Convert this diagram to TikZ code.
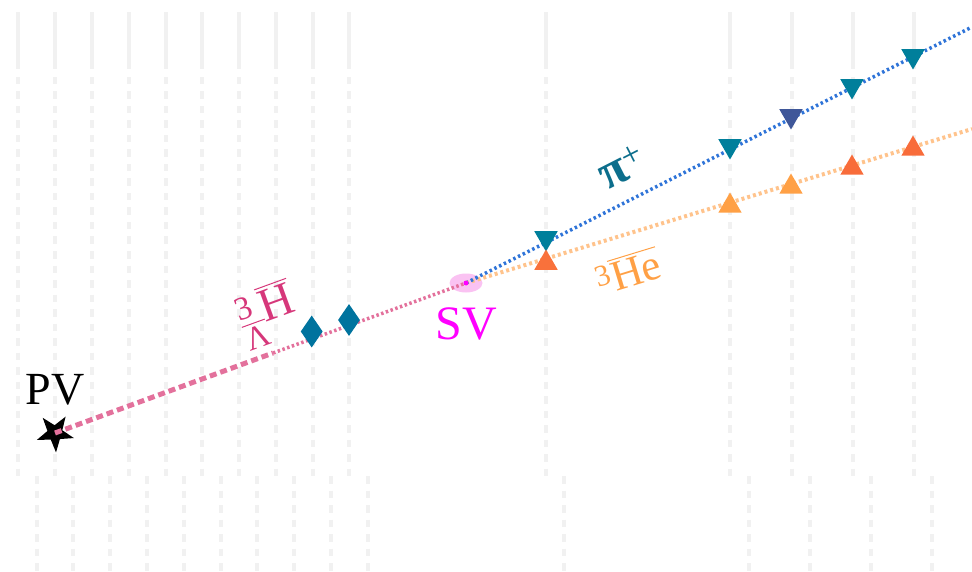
\documentclass[tikz,border=0pt]{standalone}
\usepackage{amsmath}
\usepackage{fontspec}
\setmainfont{Liberation Serif}
\usetikzlibrary{shapes.geometric}

\definecolor{layergray}{HTML}{F1F1F1}
\definecolor{htpink}{HTML}{E3719C}
\definecolor{htlabel}{HTML}{D6377A}
\definecolor{pitrack}{HTML}{2F74D8}
\definecolor{pilabel}{HTML}{0C6E8C}
\definecolor{piteal}{HTML}{007F9B}
\definecolor{pinavy}{HTML}{3F5799}
\definecolor{hetrack}{HTML}{FFC38C}
\definecolor{helabel}{HTML}{FFA045}
\definecolor{helight}{HTML}{FFA045}
\definecolor{hered}{HTML}{F86C3A}
\definecolor{htdiam}{HTML}{00739E}
\definecolor{svmag}{HTML}{FF00FF}
\definecolor{svglow}{HTML}{FAC2F2}

\begin{document}
\begin{tikzpicture}[x=1pt,y=-1pt,
  layer/.style={line width=4pt,color=layergray},
  layerdash/.style={layer,dash pattern=on 7.5pt off 7pt},
  pidown/.style={regular polygon,regular polygon sides=3,rotate=180,minimum size=27pt,inner sep=0pt},
  heup/.style={regular polygon,regular polygon sides=3,minimum size=27pt,inner sep=0pt},
  hitdiam/.style={diamond,fill=htdiam,minimum width=22pt,minimum height=32pt,inner sep=0pt},
  biglabel/.style={inner sep=0pt,font=\fontsize{46}{50}\selectfont}]
\useasboundingbox (0,0) rectangle (972,572);

% detector layers
\foreach \lx in {18.3,55,91.7,128.8,165.7,202.3,239,275.8,312.6,349.3,545.7,730,791.5,852.7,914}{
  \draw[layer] (\lx,12) -- (\lx,69);
  \draw[layerdash] (\lx,77) -- (\lx,476);
}
\foreach \lx in {36.7,73.4,110.2,147,183.7,220.5,257.3,294,331,367.7,564,748.7,810,871,932}
  \draw[layerdash] (\lx,476) -- (\lx,572);

% vertices
\node[star,star points=5,star point ratio=2.5,fill=black,minimum size=39pt,inner sep=0pt,rotate=183] (pv) at (55,433) {};
\node[biglabel] (pvlabel) at (55,390) {PV};
\node[ellipse,fill=svglow,minimum width=33pt,minimum height=19pt,inner sep=0pt] (sv) at (466,283) {};
\node[biglabel,text=svmag,font=\fontsize{48}{50}\selectfont] (svlabel) at (466,324) {SV};

\coordinate (kink) at (273,353);
\coordinate (piend) at (972,27);
\coordinate (heend) at (972,129);

% tracks
\draw[htpink,line width=5pt,dash pattern=on 7pt off 4pt] (pv.center) -- (kink);
\draw[htpink,line width=3.5pt,dash pattern=on 2.5pt off 2.5pt] (kink) -- (sv.center);
\draw[hetrack,line width=4pt,dash pattern=on 3pt off 3pt] (sv.center) -- (heend);
\draw[pitrack,line width=3.5pt,dash pattern=on 2.5pt off 2.8pt] (sv.center) -- (piend);
\fill[svmag] (sv.center) circle (2.5pt);

% hits
\node[hitdiam] (h1) at (311.7,331.5) {};
\node[hitdiam] (h2) at (349,320) {};
\node[pidown,fill=piteal] (p1) at (546,238) {};
\node[pidown,fill=piteal] (p2) at (730,146) {};
\node[pidown,fill=pinavy] (p3) at (791,116) {};
\node[pidown,fill=piteal] (p4) at (852,86) {};
\node[pidown,fill=piteal] (p5) at (913,56) {};
\node[heup,fill=hered!90!helight] (e1) at (546,263) {};
\node[heup,fill=helight] (e2) at (730,206) {};
\node[heup,fill=helight] (e3) at (791,187) {};
\node[heup,fill=hered] (e4) at (852,168) {};
\node[heup,fill=hered] (e5) at (913,149) {};

% particle labels
\node[text=htlabel,rotate=20,inner sep=0pt,font=\fontsize{47}{50}\selectfont] (htname) at (268,314) {$^{\text{3}}_{\overline{\text{Λ}}}\overline{\text{H}}$};
\node[text=pilabel,rotate=27,inner sep=0pt,font=\fontsize{50}{54}\selectfont] (piname) at (622,167) {\textbf{π}\textsuperscript{+}};
\node[text=helabel,rotate=17,inner sep=0pt,font=\fontsize{43}{46}\selectfont] (hename) at (628,271) {\textsuperscript{3}$\overline{\text{He}}$};
\end{tikzpicture}
\end{document}
